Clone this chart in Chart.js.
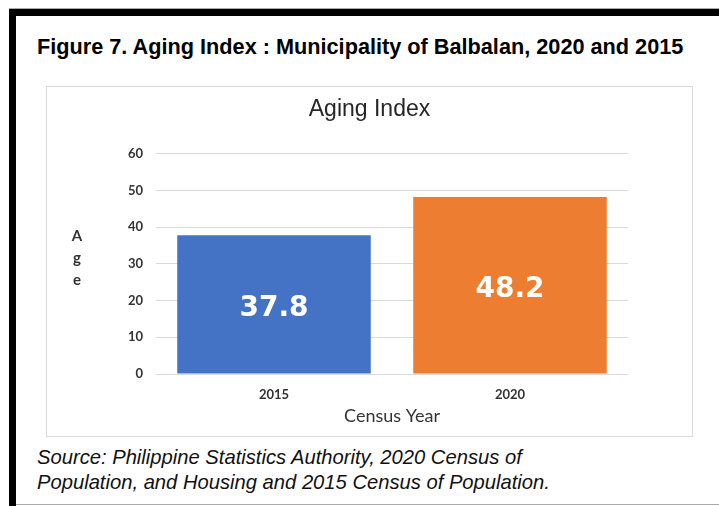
<!DOCTYPE html>
<html>
<head>
<meta charset="utf-8">
<title>Aging Index</title>
<script src="https://cdn.jsdelivr.net/npm/chart.js@4.4.0/dist/chart.umd.min.js"></script>
<style>
  body {
    margin: 0;
    width: 719px;
    height: 506px;
    position: relative;
    overflow: hidden;
    background: #fff;
    font-family: "Liberation Sans", Arial, sans-serif;
  }
  .edge-top { position: absolute; left: 9px; top: 8px; width: 710px; height: 1px; background: #aaa; }
  .bar-top { position: absolute; left: 9px; top: 9px; width: 710px; height: 7px; background: #000; }
  .bar-left { position: absolute; left: 9px; top: 9px; width: 7px; height: 497px; background: #000; }
  .edge-bottom { position: absolute; left: 16px; top: 504px; width: 703px; height: 1px; background: #aaa; }
  #fig-title {
    position: absolute; left: 37px; top: 36px;
    font-weight: bold; font-size: 21.7px; line-height: 21px;
    color: #000; white-space: nowrap;
  }
  #chart-box {
    position: absolute; left: 46px; top: 86px;
    width: 647px; height: 351px;
    border: 1px solid #d9d9d9; box-sizing: border-box;
  }
  #source {
    position: absolute; left: 37px; top: 445px;
    font-style: italic; font-size: 20.2px; line-height: 25px;
    color: #111; white-space: nowrap;
  }
</style>
</head>
<body>
<div class="edge-top"></div>
<div class="bar-top"></div>
<div class="bar-left"></div>
<div class="edge-bottom"></div>

<div id="fig-title">Figure 7. Aging Index : Municipality of Balbalan, 2020 and 2015</div>

<div id="chart-box">
  <canvas id="aging-chart" width="645" height="349"></canvas>
</div>

<div id="source">Source: Philippine Statistics Authority, 2020 Census of<br>Population, and Housing and 2015 Census of Population.</div>

<script>
// chart data
const years = ['2015', '2020'];
const agingIndex = [37.8, 48.2];
const barColors = ['#4472C4', '#ED7D31'];
const yTicks = [0, 10, 20, 30, 40, 50, 60];
const yTitleLetters = ['A', 'g', 'e'];

const textColor = '#333333';

// value labels centred inside each bar
const barLabels = {
  id: 'barLabels',
  afterDatasetsDraw(chart) {
    const ctx = chart.ctx;
    const meta = chart.getDatasetMeta(0);
    ctx.save();
    ctx.font = 'bold 28px "DejaVu Sans"';
    ctx.fillStyle = '#fff';
    ctx.textAlign = 'center';
    ctx.textBaseline = 'alphabetic';
    meta.data.forEach((bar, i) => {
      const mid = (bar.y + bar.base) / 2;
      ctx.fillText(agingIndex[i].toFixed(1), bar.x, mid + 12);
    });
    ctx.restore();
  },
};

// the y title is written as stacked letters, not rotated
const stackedYTitle = {
  id: 'stackedYTitle',
  afterDraw(chart) {
    const ctx = chart.ctx;
    ctx.save();
    ctx.font = 'bold 15px Lato';
    ctx.fillStyle = textColor;
    ctx.textAlign = 'center';
    ctx.textBaseline = 'alphabetic';
    yTitleLetters.forEach((ch, i) => {
      ctx.fillText(ch, 30, 154 + i * 22);
    });
    ctx.restore();
  },
};

const config = {
  type: 'bar',
  data: {
    labels: years,
    datasets: [
      {
        label: 'Aging Index',
        data: agingIndex,
        backgroundColor: barColors,
        borderWidth: 0,
        barPercentage: 0.82,
        categoryPercentage: 1,
      },
    ],
  },
  options: {
    responsive: false,
    animation: false,
    layout: {
      padding: 0,
    },
    scales: {
      x: {
        grid: { display: false },
        border: { display: false },
        ticks: {
          color: textColor,
          padding: 5,
          font: { family: 'Lato', size: 13, weight: 'bold' },
        },
        title: {
          display: true,
          text: 'Census Year',
          color: textColor,
          padding: { top: 4, bottom: 9 },
          font: { family: 'Lato', size: 18 },
        },
        afterFit: (scale) => {
          scale.height = 62;
        },
      },
      y: {
        min: yTicks[0],
        max: yTicks[yTicks.length - 1],
        grid: { color: '#d9d9d9', drawTicks: false },
        border: { display: false },
        ticks: {
          stepSize: yTicks[1] - yTicks[0],
          color: textColor,
          padding: 13,
          font: { family: 'Lato', size: 13, weight: 'bold' },
        },
        afterFit: (scale) => {
          scale.width = 109;
        },
      },
      // empty right-hand axis: keeps the plot off the right edge
      // while the chart title stays centred on the whole box
      yRight: {
        position: 'right',
        display: true,
        grid: { display: false },
        border: { display: false },
        ticks: { display: false },
        afterFit: (scale) => {
          scale.width = 64;
        },
      },
    },
    plugins: {
      legend: { display: false },
      tooltip: { enabled: false },
      title: {
        display: true,
        text: 'Aging Index',
        color: '#262626',
        padding: { top: 9, bottom: 30 },
        font: { family: 'Liberation Sans', size: 23, weight: 'normal' },
      },
    },
  },
  plugins: [barLabels, stackedYTitle],
};

new Chart(document.getElementById('aging-chart'), config);
</script>
</body>
</html>
